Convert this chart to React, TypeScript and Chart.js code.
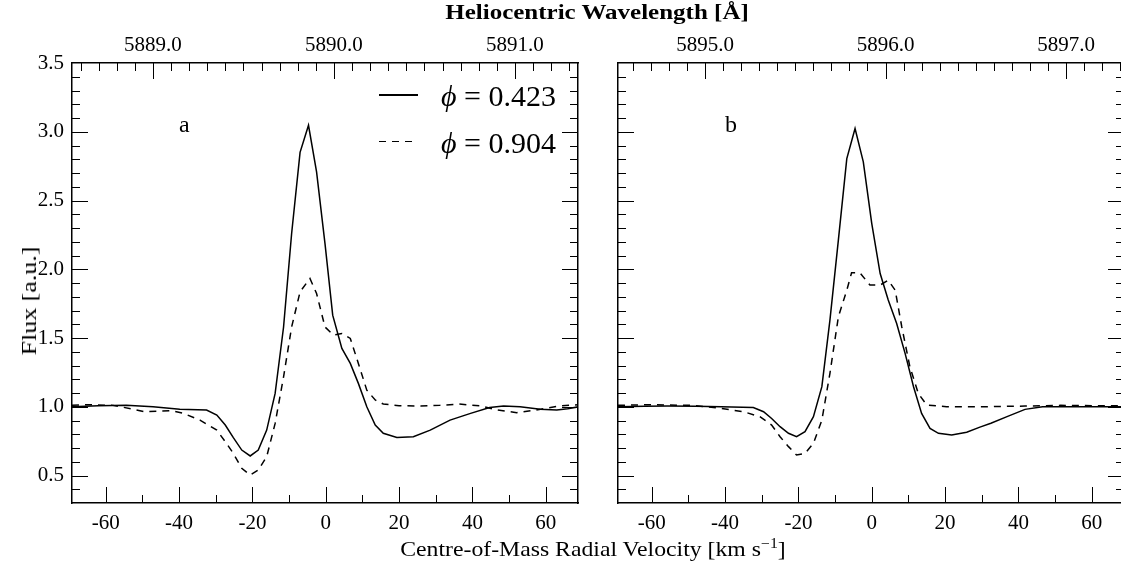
import React, { useEffect, useRef } from "react";
import { Chart, registerables } from "chart.js";

Chart.register(...registerables);

const FONT = "'Liberation Serif', 'Times New Roman', serif";

// Axis ranges and tick labels
const velRange = [-69.2, 68.8];
const fluxRange = [0.3, 3.5];
const velTicks = [-60, -40, -20, 0, 20, 40, 60];
const fluxTicks = [0.5, 1.0, 1.5, 2.0, 2.5, 3.0, 3.5];
const waveRangeA = [5888.553, 5891.348];
const waveRangeB = [5894.518, 5897.321];
const waveTicksA = [5889.0, 5890.0, 5891.0];
const waveTicksB = [5895.0, 5896.0, 5897.0];

// Panel a, phase 0.423 (solid)
const velA423 = [-69.2, -62, -54.4, -47.1, -39.8, -32.5, -29.7, -27.4, -25.2, -22.9, -20.6, -18.4, -16.1, -13.8, -11.5, -9.3, -7.0, -4.7, -2.5, -0.2, 1.9, 4.4, 6.7, 8.9, 11.2, 13.5, 15.7, 19.4, 23.9, 28.5, 33.9, 39.5, 44.7, 48.5, 53.0, 58.5, 63.0, 66.0, 69.0];
const fluxA423 = [1.0, 1.008, 1.01, 1.0, 0.981, 0.976, 0.94, 0.867, 0.775, 0.685, 0.642, 0.685, 0.83, 1.097, 1.58, 2.26, 2.85, 3.047, 2.708, 2.187, 1.666, 1.424, 1.315, 1.17, 1.0, 0.867, 0.807, 0.777, 0.782, 0.83, 0.903, 0.952, 0.995, 1.005, 1.0, 0.981, 0.976, 0.985, 1.0];

// Panel a, phase 0.904 (dashed)
const velA904 = [-69.2, -65.3, -58, -53, -49.5, -45, -42.1, -38.8, -34.3, -29.7, -27.4, -25.2, -22.9, -20.6, -18.4, -16.1, -13.8, -11.5, -9.3, -7.0, -4.3, -2.5, -0.2, 2.1, 4.4, 6.7, 8.9, 11.2, 13.5, 15.7, 20, 25.9, 31, 36.4, 42.6, 46.8, 52.1, 57.2, 63.5, 69];
const fluxA904 = [1.01, 1.015, 1.01, 0.985, 0.964, 0.968, 0.971, 0.952, 0.903, 0.83, 0.746, 0.661, 0.552, 0.504, 0.54, 0.637, 0.879, 1.218, 1.58, 1.836, 1.933, 1.824, 1.58, 1.521, 1.533, 1.497, 1.315, 1.121, 1.049, 1.02, 1.008, 1.005, 1.01, 1.02, 1.005, 0.976, 0.957, 0.976, 1.005, 1.015];

// Panel b, phase 0.423 (solid)
const velB423 = [-69.2, -62, -55.7, -48, -41.1, -32.3, -29.5, -27.3, -25, -22.7, -20.5, -18.2, -15.9, -13.6, -11.4, -9.1, -6.8, -4.55, -2.3, 0.0, 2.3, 4.5, 6.8, 9.1, 11.4, 13.6, 15.9, 18.2, 21.8, 25.9, 29.5, 32.5, 36.9, 41.8, 46.6, 52, 60, 69];
const fluxB423 = [1.0, 1.003, 1.005, 1.003, 1.0, 0.995, 0.964, 0.915, 0.855, 0.807, 0.782, 0.819, 0.928, 1.146, 1.63, 2.212, 2.805, 3.023, 2.781, 2.333, 1.969, 1.776, 1.606, 1.388, 1.146, 0.952, 0.843, 0.807, 0.794, 0.815, 0.852, 0.88, 0.928, 0.981, 1.0, 1.0, 1.0, 1.0];

// Panel b, phase 0.904 (dashed)
const velB904 = [-69.2, -60.6, -48.9, -41.1, -35, -30.5, -27.3, -25, -22.7, -20.5, -18.2, -15.9, -13.6, -11.4, -9.1, -6.8, -5.5, -3.2, -0.5, 2.3, 4.5, 6.4, 8.2, 10.4, 12.7, 15, 20.4, 29.5, 41.8, 51.5, 60, 69];
const fluxB904 = [1.01, 1.015, 1.01, 0.988, 0.964, 0.928, 0.867, 0.782, 0.71, 0.649, 0.661, 0.734, 0.903, 1.243, 1.654, 1.848, 1.974, 1.974, 1.885, 1.885, 1.92, 1.848, 1.58, 1.291, 1.097, 1.012, 1.0, 1.0, 1.005, 1.01, 1.008, 1.008];

const phaseLabels = ["0.423", "0.904"];
const DASH = [7, 6];

const frameTicks = {
  id: "frameTicks",
  afterDatasetsDraw(chart: any) {
    const { ctx, chartArea: a, scales } = chart;
    const xs = scales.x, xt = scales.x2, ys = scales.y;
    ctx.save();
    ctx.strokeStyle = "#000";
    ctx.lineWidth = 1;
    const seg = (x0: number, y0: number, x1: number, y1: number) => {
      ctx.beginPath();
      ctx.moveTo(x0, y0);
      ctx.lineTo(x1, y1);
      ctx.stroke();
    };
    for (let k = Math.ceil(xs.min / 10); k <= Math.floor(xs.max / 10); k++) {
      const px = Math.round(xs.getPixelForValue(k * 10)) + 0.5;
      const len = k % 2 === 0 ? 16 : 8;
      seg(px, a.bottom, px, a.bottom - len);
    }
    for (let k = Math.ceil(xt.min * 10); k <= Math.floor(xt.max * 10); k++) {
      const px = Math.round(xt.getPixelForValue(k / 10)) + 0.5;
      const len = k % 10 === 0 ? 16 : 8;
      seg(px, a.top, px, a.top + len);
    }
    for (let k = Math.ceil(ys.min * 10 + 1e-6); k <= Math.floor(ys.max * 10 - 1e-6); k++) {
      const py = Math.round(ys.getPixelForValue(k / 10)) + 0.5;
      const len = k % 5 === 0 ? 16 : 8;
      seg(a.left, py, a.left + len, py);
      seg(a.right, py, a.right - len, py);
    }
    ctx.restore();
  },
};

function makeConfig(
  solidV: number[], solidF: number[], dashV: number[], dashF: number[],
  waveRange: number[], waveTicks: number[], showYLabels: boolean, leftW: number, padRight: number
): any {
  const border = { display: true, color: "#000", width: 1.5 };
  const tickFont = { family: FONT, size: 21 };
  return {
    type: "scatter",
    data: {
      datasets: [
        {
          label: "phi = " + phaseLabels[0],
          data: solidV.map((v, i) => ({ x: v, y: solidF[i] })),
          showLine: true, borderColor: "#000", borderWidth: 1.5, pointRadius: 0, tension: 0,
        },
        {
          label: "phi = " + phaseLabels[1],
          data: dashV.map((v, i) => ({ x: v, y: dashF[i] })),
          showLine: true, borderColor: "#000", borderWidth: 1.5, borderDash: DASH, pointRadius: 0, tension: 0,
        },
      ],
    },
    options: {
      animation: false,
      responsive: false,
      devicePixelRatio: 1,
      events: [],
      layout: { padding: { left: 0, right: padRight, top: 0, bottom: 0 } },
      plugins: { legend: { display: false }, tooltip: { enabled: false } },
      scales: {
        x: {
          type: "linear", position: "bottom", min: velRange[0], max: velRange[1],
          afterBuildTicks: (s: any) => { s.ticks = velTicks.map((v) => ({ value: v })); },
          ticks: { font: tickFont, color: "#000", padding: 8, maxRotation: 0, autoSkip: false, callback: (v: any) => String(v) },
          grid: { display: false, drawTicks: false }, border,
          afterFit: (s: any) => { s.height = 61; },
        },
        x2: {
          type: "linear", position: "top", min: waveRange[0], max: waveRange[1],
          afterBuildTicks: (s: any) => { s.ticks = waveTicks.map((v) => ({ value: v })); },
          ticks: { font: tickFont, color: "#000", padding: 5, maxRotation: 0, autoSkip: false, callback: (v: any) => Number(v).toFixed(1) },
          grid: { display: false, drawTicks: false }, border,
          afterFit: (s: any) => { s.height = 63; },
        },
        y: {
          type: "linear", position: "left", min: fluxRange[0], max: fluxRange[1],
          afterBuildTicks: (s: any) => { s.ticks = fluxTicks.map((v) => ({ value: v })); },
          ticks: { display: showYLabels, font: tickFont, color: "#000", padding: 8, callback: (v: any) => Number(v).toFixed(1) },
          grid: { display: false, drawTicks: false }, border,
          afterFit: (s: any) => { s.width = leftW; },
        },
        y2: {
          type: "linear", position: "right", min: fluxRange[0], max: fluxRange[1],
          ticks: { display: false },
          grid: { display: false, drawTicks: false }, border,
          afterFit: (s: any) => { s.width = 0; },
        },
      },
    },
    plugins: [frameTicks],
  };
}

const abs = (o: any): React.CSSProperties => ({ position: "absolute", lineHeight: 1, whiteSpace: "nowrap", ...o });

export default function App() {
  const refA = useRef<HTMLCanvasElement>(null);
  const refB = useRef<HTMLCanvasElement>(null);

  useEffect(() => {
    const cA = new Chart(refA.current as HTMLCanvasElement,
      makeConfig(velA423, fluxA423, velA904, fluxA904, waveRangeA, waveTicksA, true, 72, 22));
    const cB = new Chart(refB.current as HTMLCanvasElement,
      makeConfig(velB423, fluxB423, velB904, fluxB904, waveRangeB, waveTicksB, false, 20, 14));
    return () => { cA.destroy(); cB.destroy(); };
  }, []);

  return (
    <div style={{ position: "fixed", left: 0, top: 0, width: 1121, height: 564, overflow: "hidden", background: "#fff", fontFamily: FONT, color: "#000" }}>
      <canvas ref={refA} width={600} height={564} style={{ position: "absolute", left: 0, top: 0 }} />
      <canvas ref={refB} width={540} height={564} style={{ position: "absolute", left: 598, top: 0 }} />

      {/* Top shared title */}
      <div style={abs({ left: 597, top: 2.4, fontSize: 21, fontWeight: "bold", transform: "translateX(-50%) scaleX(1.19)" })}>
        Heliocentric Wavelength [Å]
      </div>

      {/* Bottom shared title */}
      <div style={abs({ left: 593, top: 539, fontSize: 21, transform: "translateX(-50%) scaleX(1.13)" })}>
        Centre-of-Mass Radial Velocity [km s<sup style={{ fontSize: 14, verticalAlign: 0, position: "relative", top: -8 }}>−1</sup>]
      </div>

      {/* Y title */}
      <div style={abs({ left: 29, top: 301, fontSize: 22, transform: "translate(-50%, -50%) rotate(-90deg) scaleX(1.18)" })}>
        Flux [a.u.]
      </div>

      {/* Panel labels */}
      <div style={abs({ left: 179, top: 112, fontSize: 24 })}>a</div>
      <div style={abs({ left: 725, top: 112, fontSize: 24 })}>b</div>

      {/* Legend */}
      <div style={abs({ left: 379, top: 94, width: 39, height: 1.5, background: "#000" })} />
      <div style={abs({ left: 379, top: 140.5, width: 39, height: 1.5, background: "repeating-linear-gradient(to right, #000 0 7px, transparent 7px 13px)" })} />
      <div style={abs({ left: 441, top: 81, fontSize: 30 })}>
        <span style={{ fontStyle: "italic" }}>ϕ</span> = {phaseLabels[0]}
      </div>
      <div style={abs({ left: 441, top: 127.6, fontSize: 30 })}>
        <span style={{ fontStyle: "italic" }}>ϕ</span> = {phaseLabels[1]}
      </div>
    </div>
  );
}
